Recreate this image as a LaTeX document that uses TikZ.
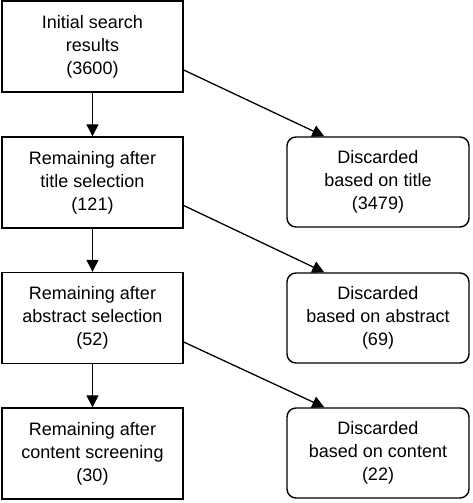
\documentclass[tikz,border=0pt]{standalone}
\usepackage{fontspec}
\setmainfont{Liberation Sans}
\usetikzlibrary{arrows.meta,calc}
\begin{document}
\begin{tikzpicture}[x=1pt,y=-1pt,
  box/.style={draw=black,line width=1.4pt,minimum width=181pt,minimum height=91pt,
    inner sep=0pt,align=center,font=\fontsize{18pt}{23pt}\selectfont},
  rbox/.style={box,rounded corners=9pt,minimum width=182pt,minimum height=90pt},
  arr/.style={line width=1.3pt,-{Triangle[length=12pt,width=12pt]}}]
\useasboundingbox (0,0) rectangle (472,503);
\node[box] (L1) at (92.5,46.5) {Initial search\\results\\(3600)};
\node[box] (L2) at (92.5,182.5) {Remaining after\\title selection\\(121)};
\node[box] (L3) at (92.5,318) {Remaining after\\abstract selection\\(52)};
\node[box] (L4) at (92.5,453.5) {Remaining after\\content screening\\(30)};
\node[rbox] (R1) at (378,182) {Discarded\\based on title\\(3479)};
\node[rbox] (R2) at (378,318) {Discarded\\based on abstract\\(69)};
\node[rbox] (R3) at (378,453) {Discarded\\based on content\\(22)};
\draw[arr] (L1) -- (L2);
\draw[arr] (L2) -- (L3);
\draw[arr] (L3) -- (L4);
\draw[arr] ($(L1.east)+(0,23.5)$) -- ($(R1.north west)+(38,0)$);
\draw[arr] ($(L2.east)+(0,23)$) -- ($(R2.north west)+(38,0)$);
\draw[arr] ($(L3.east)+(0,24)$) -- ($(R3.north west)+(38,0)$);
\end{tikzpicture}
\end{document}
